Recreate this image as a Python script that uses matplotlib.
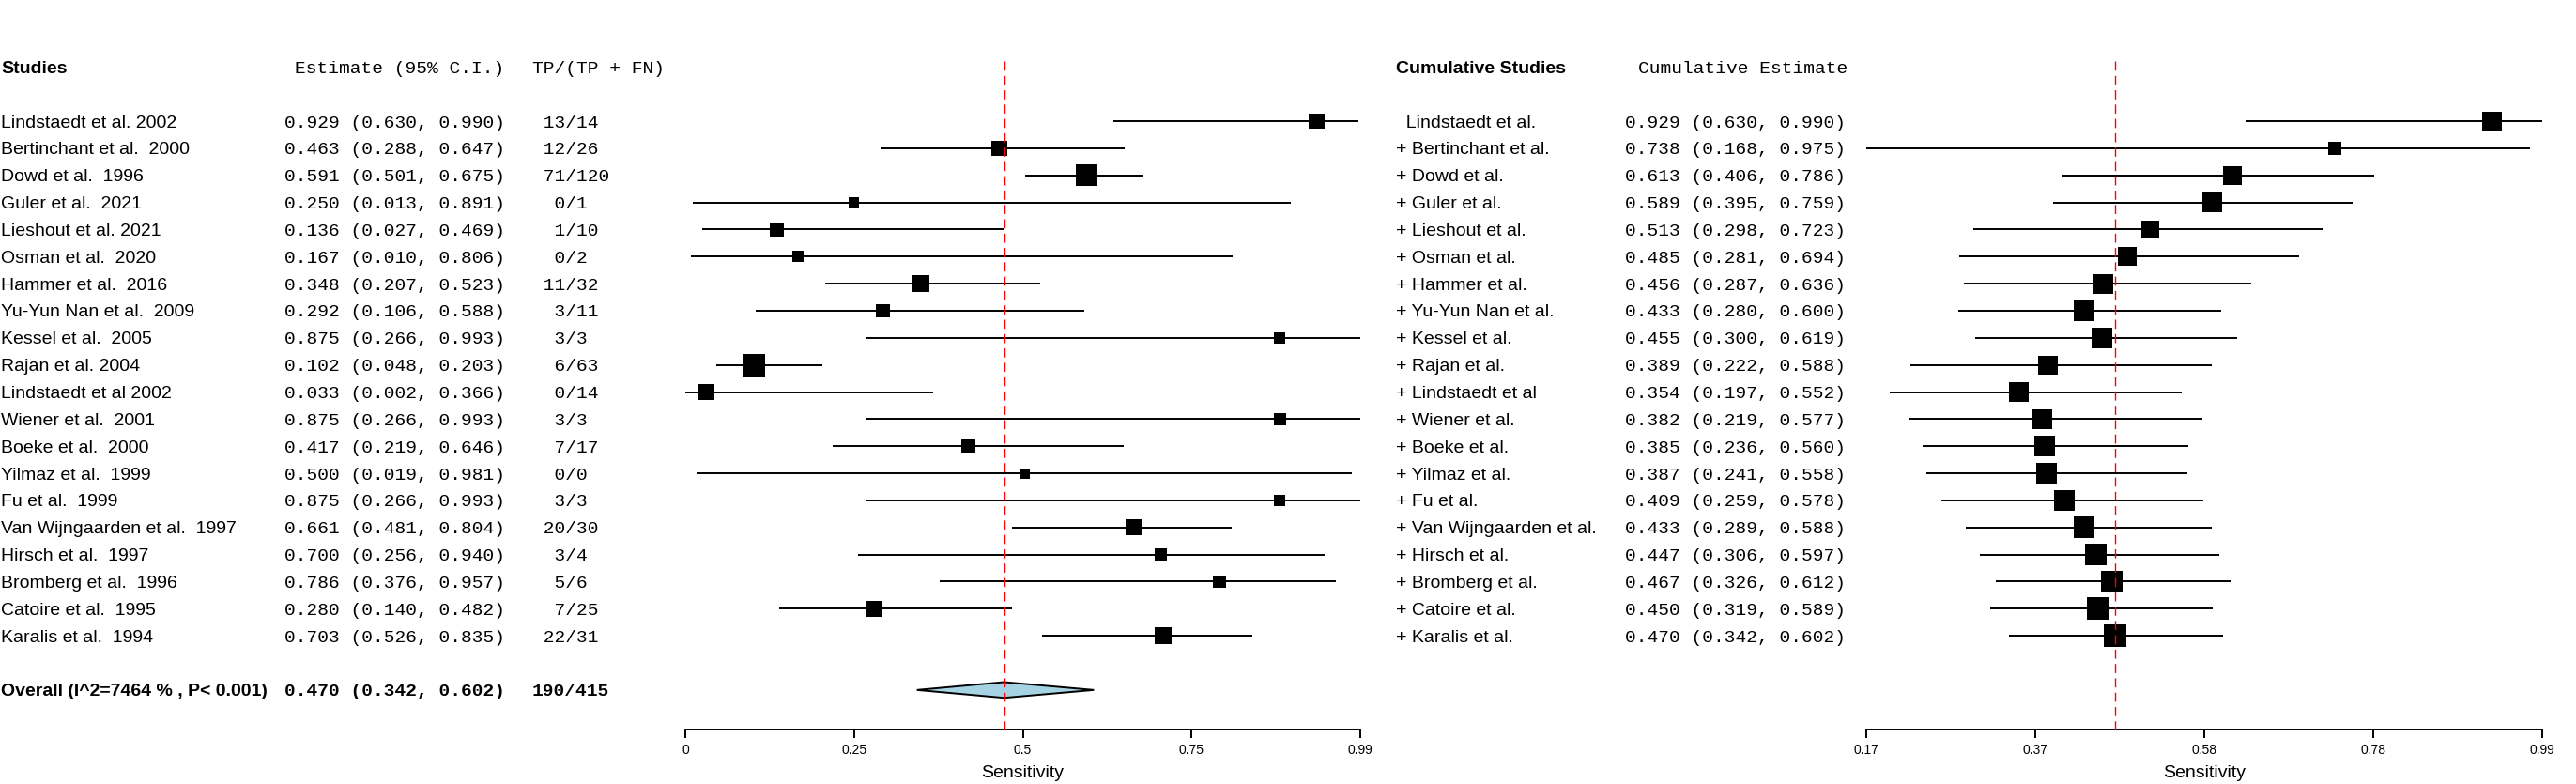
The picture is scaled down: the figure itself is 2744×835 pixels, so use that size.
import numpy as np
import matplotlib
matplotlib.use("Agg")
import matplotlib.pyplot as plt
from matplotlib.transforms import blended_transform_factory

# ---------------- data ----------------
studies = ["Lindstaedt et al. 2002", "Bertinchant et al.  2000", "Dowd et al.  1996",
           "Guler et al.  2021", "Lieshout et al. 2021", "Osman et al.  2020",
           "Hammer et al.  2016", "Yu-Yun Nan et al.  2009", "Kessel et al.  2005",
           "Rajan et al. 2004", "Lindstaedt et al 2002", "Wiener et al.  2001",
           "Boeke et al.  2000", "Yilmaz et al.  1999", "Fu et al.  1999",
           "Van Wijngaarden et al.  1997", "Hirsch et al.  1997", "Bromberg et al.  1996",
           "Catoire et al.  1995", "Karalis et al.  1994"]
est = [0.929, 0.463, 0.591, 0.250, 0.136, 0.167, 0.348, 0.292, 0.875, 0.102,
       0.033, 0.875, 0.417, 0.500, 0.875, 0.661, 0.700, 0.786, 0.280, 0.703]
lo = [0.630, 0.288, 0.501, 0.013, 0.027, 0.010, 0.207, 0.106, 0.266, 0.048,
      0.002, 0.266, 0.219, 0.019, 0.266, 0.481, 0.256, 0.376, 0.140, 0.526]
hi = [0.990, 0.647, 0.675, 0.891, 0.469, 0.806, 0.523, 0.588, 0.993, 0.203,
      0.366, 0.993, 0.646, 0.981, 0.993, 0.804, 0.940, 0.957, 0.482, 0.835]
tp = [13, 12, 71, 0, 1, 0, 11, 3, 3, 6, 0, 3, 7, 0, 3, 20, 3, 5, 7, 22]
n_pos = [14, 26, 120, 1, 10, 2, 32, 11, 3, 63, 14, 3, 17, 0, 3, 30, 4, 6, 25, 31]
# relative study weights (box size)
study_weight = [16.3, 16.3, 23, 11, 15, 12, 17.3, 14.7, 12, 24,
                16.7, 12.3, 15, 11, 12, 17.3, 12.7, 13.7, 17, 18]

overall_label = "Overall (I^2=7464 % , P< 0.001)"
overall_est, overall_lo, overall_hi = 0.470, 0.342, 0.602
overall_tp, overall_n = 190, 415

cum_names = ["Lindstaedt et al.", "Bertinchant et al.", "Dowd et al.", "Guler et al.",
             "Lieshout et al.", "Osman et al.", "Hammer et al.", "Yu-Yun Nan et al.",
             "Kessel et al.", "Rajan et al.", "Lindstaedt et al", "Wiener et al.",
             "Boeke et al.", "Yilmaz et al.", "Fu et al.", "Van Wijngaarden et al.",
             "Hirsch et al.", "Bromberg et al.", "Catoire et al.", "Karalis et al."]
cum_est = [0.929, 0.738, 0.613, 0.589, 0.513, 0.485, 0.456, 0.433, 0.455, 0.389,
           0.354, 0.382, 0.385, 0.387, 0.409, 0.433, 0.447, 0.467, 0.450, 0.470]
cum_lo = [0.630, 0.168, 0.406, 0.395, 0.298, 0.281, 0.287, 0.280, 0.300, 0.222,
          0.197, 0.219, 0.236, 0.241, 0.259, 0.289, 0.306, 0.326, 0.319, 0.342]
cum_hi = [0.990, 0.975, 0.786, 0.759, 0.723, 0.694, 0.636, 0.600, 0.619, 0.588,
          0.552, 0.577, 0.560, 0.558, 0.578, 0.588, 0.597, 0.612, 0.589, 0.602]
cum_weight = [20.3, 14, 20, 20.7, 19, 19.7, 21, 22, 22, 20.3,
              21, 20.7, 21.7, 22, 22, 22.7, 23, 23, 23.7, 24]

left_ticklabels = ["0", "0.25", "0.5", "0.75", "0.99"]
right_ticklabels = ["0.17", "0.37", "0.58", "0.78", "0.99"]

# ---------------- layout ----------------
W, H, DPI = 2744, 835, 100
fig = plt.figure(figsize=(W / DPI, H / DPI), dpi=DPI)
fig.patch.set_facecolor("white")

SANS = "Liberation Sans"
MONO = "Liberation Mono"
FS = 14          # main text size (pt)
FS_TICK = 10


def pt(px):
    return px * 72.0 / DPI


ROW0, DROW = 129.0, 28.85
AXIS_PY, TOP_PY = 777.0, 40.0


def make_ax(x0, x1):
    ax = fig.add_axes([x0 / W, 1 - AXIS_PY / H, (x1 - x0) / W, (AXIS_PY - TOP_PY) / H])
    ax.set_ylim((AXIS_PY - ROW0) / DROW, (TOP_PY - ROW0) / DROW)
    for s in ["top", "left", "right"]:
        ax.spines[s].set_visible(False)
    ax.spines["bottom"].set_linewidth(1.4)
    ax.set_yticks([])
    ax.patch.set_visible(False)
    return ax


def forest(ax, e, l, h, wts, ticklabels):
    rows = np.arange(len(e))
    ax.hlines(rows, l, h, color="black", lw=1.4, zorder=2)
    ax.scatter(e, rows, s=np.array([pt(v) for v in wts]) ** 2, marker="s",
               color="black", linewidths=0, zorder=3)
    xmin, xmax = min(l), max(h)
    ax.set_xlim(xmin, xmax)
    ax.set_xticks(np.linspace(xmin, xmax, 5))
    ax.set_xticklabels(ticklabels)
    ax.tick_params(axis="x", direction="out", length=pt(9), width=1.4, pad=pt(6),
                   labelsize=FS_TICK)
    for lbl in ax.get_xticklabels():
        lbl.set_fontfamily(SANS)
    ax.plot([overall_est, overall_est], [(65 - ROW0) / DROW, ax.get_ylim()[0]],
            color="red", lw=1.0, dashes=(7, 4), zorder=4)
    ax.text(0.5, 1 - (823 - TOP_PY) / (AXIS_PY - TOP_PY), "Sensitivity",
            transform=ax.transAxes, ha="center", va="center", family=SANS, fontsize=FS)


va = "center_baseline"

# ---------------- left panel ----------------
axL = make_ax(730.0, 1449.0)
forest(axL, est, lo, hi, study_weight, left_ticklabels)
r_ov = len(est) + 1
axL.fill([overall_lo, overall_est, overall_hi, overall_est],
         [r_ov, r_ov - 0.29, r_ov, r_ov + 0.29],
         facecolor="#A6D3E3", edgecolor="black", lw=1.4, zorder=3)

tL = blended_transform_factory(fig.transFigure, axL.transData)
X_NAME, X_VAL, X_VAL_END, X_TP = 1.0, 303.0, 537.0, 567.0
axL.text(X_NAME / W, -2, "Studies", transform=tL, ha="left", va=va, family=SANS,
         fontweight="bold", fontsize=FS)
axL.text(X_VAL_END / W, -2, "Estimate (95% C.I.)", transform=tL, ha="right", va=va,
         family=MONO, fontsize=FS)
axL.text(X_TP / W, -2, "TP/(TP + FN)", transform=tL, ha="left", va=va,
         family=MONO, fontsize=FS)
for i in range(len(studies)):
    axL.text(X_NAME / W, i, studies[i], transform=tL, ha="left", va=va, family=SANS,
             fontsize=FS)
    axL.text(X_VAL / W, i, f"{est[i]:.3f} ({lo[i]:.3f}, {hi[i]:.3f})", transform=tL,
             ha="left", va=va, family=MONO, fontsize=FS)
    axL.text(X_TP / W, i, f"{tp[i]:>3}/{n_pos[i]}", transform=tL, ha="left", va=va,
             family=MONO, fontsize=FS)
axL.text(X_NAME / W, r_ov, overall_label, transform=tL, ha="left", va=va, family=SANS,
         fontweight="bold", fontsize=FS)
axL.text(X_VAL / W, r_ov, f"{overall_est:.3f} ({overall_lo:.3f}, {overall_hi:.3f})",
         transform=tL, ha="left", va=va, family=MONO, fontweight="bold", fontsize=FS)
axL.text(X_TP / W, r_ov, f"{overall_tp:>3}/{overall_n}", transform=tL, ha="left", va=va,
         family=MONO, fontweight="bold", fontsize=FS)

# ---------------- right panel ----------------
axR = make_ax(1988.0, 2708.0)
forest(axR, cum_est, cum_lo, cum_hi, cum_weight, right_ticklabels)
tR = blended_transform_factory(fig.transFigure, axR.transData)
XR_NAME, XR_VAL, XR_VAL_END = 1487.0, 1731.0, 1968.0
axR.text(XR_NAME / W, -2, "Cumulative Studies", transform=tR, ha="left", va=va,
         family=SANS, fontweight="bold", fontsize=FS)
axR.text(XR_VAL_END / W, -2, "Cumulative Estimate", transform=tR, ha="right", va=va,
         family=MONO, fontsize=FS)
for i in range(len(cum_names)):
    label = ("  " if i == 0 else "+ ") + cum_names[i]
    axR.text(XR_NAME / W, i, label, transform=tR, ha="left", va=va, family=SANS,
             fontsize=FS)
    axR.text(XR_VAL / W, i, f"{cum_est[i]:.3f} ({cum_lo[i]:.3f}, {cum_hi[i]:.3f})",
             transform=tR, ha="left", va=va, family=MONO, fontsize=FS)

fig.savefig("out.png", dpi=DPI, facecolor="white")
